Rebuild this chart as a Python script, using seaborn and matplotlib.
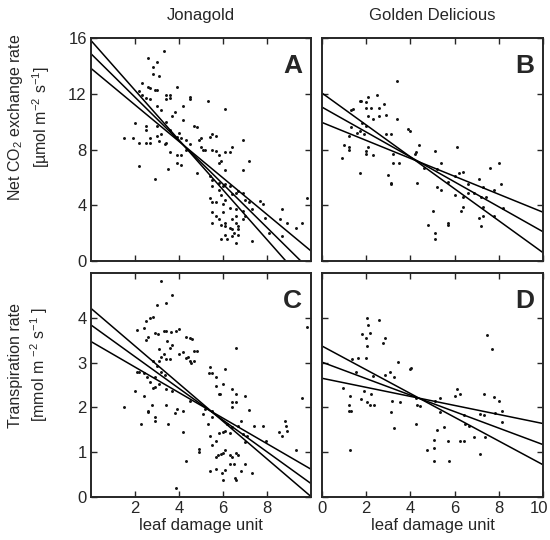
import numpy as np
import pandas as pd
import matplotlib
matplotlib.use('Agg')
import matplotlib.pyplot as plt
import matplotlib.transforms as mtransforms
import seaborn as sns

# --- data ---
# A: Jonagold, net CO2 exchange rate
a_x = [3.3, 2.6, 3.0, 2.8, 2.8, 3.1, 2.3, 2.6, 2.9, 3.0, 2.7, 3.9, 2.2, 2.3, 2.5, 2.7, 3.4, 3.6, 3.6, 3.4,
       4.5, 4.5, 5.3, 6.1, 3.0, 3.2, 3.7, 4.2, 3.8, 2.0, 2.5, 2.5, 3.0, 3.4, 4.2, 4.7, 4.8,
       1.5, 1.9, 2.2, 2.5, 2.7, 3.0, 3.2, 3.6, 3.9, 4.0, 4.1, 4.3, 4.5, 4.9, 5.0, 2.7, 3.1, 3.4, 3.35,
       2.2, 2.9, 3.5, 3.9, 4.1, 3.6, 3.9, 4.1, 4.3, 4.8, 5.0, 5.1, 5.2, 5.5, 5.7, 5.8, 6.1, 6.3, 5.8, 5.9,
       5.5, 5.7, 5.4, 6.4, 6.9, 7.2, 6.9, 6.1,
       5.4, 5.5, 5.8, 5.5, 5.8, 6.0, 6.1, 6.3, 5.9, 6.1, 6.4, 6.6, 6.7, 6.9, 7.0, 5.7, 6.0, 6.3, 6.6, 5.4,
       5.5, 5.5, 5.8, 5.9, 6.1, 6.1, 6.3, 6.4, 6.5, 6.6, 6.7, 6.1, 5.9, 6.2, 6.4, 6.6, 6.7, 6.7, 6.9, 7.0,
       7.2, 7.3, 5.5, 5.7, 6.6, 6.4, 7.3, 7.7, 7.8, 8.6, 8.7, 8.9, 9.3, 9.6, 9.8, 8.7, 8.1, 7.9, 6.9, 6.0]
a_y = [15.1, 14.6, 14.3, 13.9, 13.4, 13.3, 12.8, 12.5, 12.3, 12.3, 12.4, 12.5, 12.2, 11.9, 11.7, 11.6, 11.9, 11.9, 11.7, 11.6,
       11.8, 11.6, 11.5, 10.9, 11.1, 10.8, 10.4, 11.1, 10.7, 9.9, 9.7, 9.4, 9.7, 10.0, 10.1, 9.7, 9.6,
       8.8, 8.8, 8.5, 8.5, 8.8, 9.0, 9.1, 9.4, 8.9, 9.2, 8.8, 8.7, 8.4, 8.7, 8.8, 8.5, 8.6, 8.5, 8.4,
       6.8, 5.9, 6.6, 7.0, 6.9, 7.8, 7.6, 7.6, 8.0, 6.3, 8.2, 8.0, 8.0, 8.0, 7.9, 7.6, 7.8, 7.8, 7.0, 7.2,
       9.1, 9.0, 8.9, 8.2, 8.7, 7.2, 6.5, 6.5,
       6.1, 5.8, 5.6, 5.4, 5.1, 5.4, 5.5, 5.4, 4.7, 4.4, 4.8, 4.9, 5.0, 4.9, 4.4, 4.2, 4.1, 3.8, 3.7, 4.5,
       4.2, 2.7, 3.0, 2.6, 2.7, 2.5, 2.4, 2.3, 2.0, 2.7, 2.5, 1.9, 1.6, 1.6, 1.8, 1.3, 1.9, 2.3, 3.0, 3.2,
       4.2, 3.7, 3.5, 3.2, 3.2, 3.0, 1.4, 4.3, 4.1, 3.0, 3.7, 2.7, 2.4, 2.7, 4.5, 1.8, 2.0, 3.1, 3.6, 3.5]

# B: Golden Delicious, net CO2 exchange rate
b_x = [3.4, 2.5, 2.1, 1.7, 1.75, 2.0, 2.8, 2.6, 2.0, 2.2, 1.3, 1.4, 2.6, 2.3, 2.1, 2.9, 3.4, 2.0, 1.3, 1.8,
       3.9, 4.0, 2.9, 3.1, 1.2, 1.6, 1.7, 1.9, 1.0, 1.2, 1.2, 0.9, 2.1, 2.3, 2.0, 2.0, 3.2, 3.2, 3.5, 4.4,
       4.2, 4.25, 5.1, 6.1, 4.6, 5.4, 5.2, 1.7, 3.0, 3.1, 3.1, 4.3, 5.2, 5.4, 6.0, 6.2, 6.4, 5.7, 6.6, 7.1,
       7.6, 8.0, 8.1, 7.3, 7.8, 6.0, 6.4, 6.6, 6.9, 7.2, 7.4, 6.4, 6.3, 7.3, 8.2, 7.1, 7.3, 7.8, 7.2, 5.0,
       4.8, 5.7, 5.7, 5.1, 5.1]
b_y = [12.9, 11.9, 11.8, 11.5, 11.5, 11.4, 11.3, 11.0, 11.0, 11.0, 10.8, 10.9, 10.4, 10.2, 10.4, 10.5, 10.2, 9.7, 9.6, 9.9,
       9.5, 9.3, 9.1, 9.1, 9.0, 9.2, 9.3, 9.1, 8.3, 8.2, 8.0, 7.4, 8.2, 7.6, 7.7, 7.9, 7.7, 7.0, 7.0, 8.3,
       7.7, 7.8, 7.9, 8.2, 6.7, 7.0, 6.6, 6.3, 6.2, 5.6, 5.5, 5.6, 5.3, 5.1, 6.1, 6.3, 6.4, 5.7, 5.5, 5.9,
       6.7, 7.0, 5.5, 5.3, 5.1, 4.7, 4.6, 4.9, 4.9, 4.6, 4.6, 3.9, 3.6, 3.9, 3.8, 3.1, 3.2, 3.2, 2.5, 3.6,
       2.6, 2.7, 2.6, 2.0, 1.6]

# C: Jonagold, transpiration rate
c_x = [3.2, 3.7, 3.4, 3.0, 2.5, 2.7, 2.8, 2.1, 2.4, 2.6, 2.5, 2.9, 3.05, 3.3, 3.4, 3.65, 3.85, 4.0, 4.3, 4.5,
       4.6, 4.7, 4.8, 4.3, 4.4, 4.5, 4.55, 4.7, 4.2, 4.0, 3.7, 3.6, 3.45, 3.1, 3.2, 3.4, 3.6, 3.3, 3.1, 2.8,
       3.0, 3.2, 3.35, 2.9, 2.7, 2.55, 2.4, 2.2, 2.1, 2.0, 2.8, 2.9, 3.1, 3.4, 3.7, 2.4, 2.6, 2.75, 2.6, 2.25,
       2.9, 2.9, 1.5, 3.4, 3.9, 3.8, 4.2, 4.5, 4.2, 4.9, 4.9, 4.3, 3.85, 3.5,
       5.4, 5.35, 5.5, 5.7, 5.7, 5.8, 5.85, 6.0, 6.1, 6.4, 6.4, 6.6, 6.6, 6.6, 7.0, 7.2, 6.4, 5.5, 5.5, 5.2,
       5.1, 5.3, 5.4, 5.5, 5.7, 5.8, 6.0, 6.1, 6.2, 6.3, 6.4, 6.7, 6.8, 6.9, 7.0, 7.1, 5.7, 5.75, 5.9, 6.0,
       6.1, 6.3, 6.4, 6.6, 6.7, 6.5, 6.3, 6.1, 5.95, 6.0, 5.7, 5.4, 6.55, 6.6, 7.0, 6.8, 7.3, 7.4, 7.8, 7.95,
       8.55, 8.7, 8.8, 8.9, 8.85, 9.3, 9.6, 9.8]
c_y = [4.83, 4.5, 4.32, 4.28, 3.93, 4.0, 4.02, 3.73, 3.78, 3.57, 3.5, 3.67, 3.64, 3.7, 3.7, 3.69, 3.7, 3.74, 3.57, 3.54,
       3.52, 3.27, 3.27, 3.1, 3.13, 3.04, 2.99, 3.04, 3.24, 3.19, 3.39, 3.32, 3.48, 3.3, 3.13, 3.07, 3.07, 3.19, 3.04, 3.04,
       2.93, 2.78, 2.73, 2.68, 2.56, 2.67, 2.76, 2.78, 2.78, 2.37, 2.44, 2.46, 2.52, 2.41, 2.37, 2.26, 1.93, 2.06, 1.9, 1.64,
       1.78, 1.69, 2.02, 2.06, 1.96, 1.87, 1.91, 2.15, 1.44, 1.07, 1.0, 0.8, 0.21, 1.63,
       2.9, 2.76, 2.76, 2.67, 2.48, 2.31, 2.31, 2.52, 2.85, 2.41, 2.13, 2.13, 2.3, 3.32, 2.26, 1.94, 2.0, 1.93, 1.78, 1.96,
       1.85, 1.63, 1.37, 1.16, 1.26, 1.42, 1.46, 1.48, 1.63, 1.42, 1.57, 1.59, 1.7, 1.41, 1.22, 1.37, 0.89, 0.93, 0.95, 0.98,
       1.04, 0.93, 0.9, 0.98, 0.93, 0.74, 0.74, 0.61, 0.53, 0.37, 0.63, 0.59, 0.43, 0.37, 0.74, 0.59, 0.53, 1.59, 1.59, 1.26,
       1.44, 1.37, 1.7, 1.48, 1.59, 1.04, 2.2, 3.8]

# D: Golden Delicious, transpiration rate
d_x = [2.03, 2.56, 2.1, 2.18, 1.8, 2.0, 2.86, 2.75, 2.03, 2.0, 1.65, 1.54, 1.35, 3.46, 3.99, 4.02, 3.06, 2.86, 3.24, 2.33,
       0.97, 1.27, 1.88, 2.21, 1.24, 1.2, 1.3, 1.75, 2.03, 2.18, 2.36, 3.16, 3.54, 3.12, 3.24, 4.27, 4.3, 4.45, 5.36, 5.13,
       5.36, 4.27, 5.2, 5.51, 1.27, 5.05, 4.75, 5.08, 5.05, 5.73, 5.7, 6.26, 6.44, 6.11, 6.04, 6.26, 6.41, 6.49, 6.64, 6.87,
       7.14, 7.32, 7.37, 7.17, 7.35, 7.78, 8.0, 7.82, 8.15, 8.15, 7.67, 7.47]
d_y = [4.0, 3.96, 3.84, 3.67, 3.63, 3.54, 3.54, 3.44, 3.37, 3.11, 3.1, 2.78, 3.07, 3.02, 2.85, 2.89, 2.78, 2.73, 2.68, 2.7,
       2.44, 2.26, 2.37, 2.3, 2.06, 1.93, 1.91, 2.19, 2.13, 2.06, 2.06, 2.15, 2.11, 1.89, 1.54, 2.22, 2.06, 2.04, 2.22, 2.15,
       1.89, 1.64, 1.5, 1.57, 1.04, 1.27, 1.05, 1.1, 0.8, 0.8, 1.24, 1.24, 1.26, 2.41, 2.26, 2.31, 1.84, 1.63, 1.59, 1.33,
       1.85, 1.84, 1.33, 0.96, 2.31, 2.24, 2.15, 1.87, 1.93, 1.67, 3.31, 3.61]

# regression line and its two confidence lines (intercept at x=0, slope)
a_lines = [(15.82, -1.786), (14.87, -1.559), (13.82, -1.31)]
b_lines = [(12.05, -1.145), (11.04, -0.894), (9.94, -0.644)]
c_lines = [(4.21, -0.42), (3.84, -0.354), (3.47, -0.285)]
d_lines = [(3.37, -0.265), (3.01, -0.184), (2.65, -0.101)]

cultivars = ['Jonagold', 'Golden Delicious']
letters = ['A', 'B', 'C', 'D']

sns.set_style('ticks')
plt.rcParams['font.family'] = ['Liberation Sans', 'DejaVu Sans']
plt.rcParams['mathtext.fontset'] = 'custom'
plt.rcParams['mathtext.rm'] = 'Liberation Sans'
plt.rcParams['mathtext.it'] = 'Liberation Sans'

fig = plt.figure(figsize=(5.5, 5.4), dpi=100)
W, H = 550, 540
lefts = [91, 322]
rights = [311, 543]
tops = [38, 273]
bottoms = [261, 497]

panels = [(a_x, a_y, a_lines), (b_x, b_y, b_lines), (c_x, c_y, c_lines), (d_x, d_y, d_lines)]
ylims = [(0, 16), (0, 5)]
yticks = [[0, 4, 8, 12, 16], [0, 1, 2, 3, 4]]

for i, (xs, ys, lines) in enumerate(panels):
    row, col = divmod(i, 2)
    ax = fig.add_axes([lefts[col] / W, 1 - bottoms[row] / H,
                       (rights[col] - lefts[col]) / W, (bottoms[row] - tops[row]) / H])
    df = pd.DataFrame({'x': xs, 'y': ys})
    sns.scatterplot(data=df, x='x', y='y', ax=ax, color='#111111', s=4.5, linewidth=0, marker='o')
    for b, m in lines:
        ax.axline((0, b), slope=m, color='black', lw=1.1)
    ax.set_xlim(0, 10)
    ax.set_ylim(*ylims[row])
    ax.set_yticks(yticks[row])
    if col == 0:
        ax.set_xticks([2, 4, 6, 8])
    else:
        ax.set_xticks([0, 2, 4, 6, 8, 10])
    ax.tick_params(direction='in', top=True, right=True, length=4, width=1,
                   labelsize=12, pad=3)
    if row == 0:
        ax.tick_params(labelbottom=False)
        ax.set_title(cultivars[col], fontsize=12, pad=13)
        ax.set_xlabel('')
    else:
        ax.set_xlabel('leaf damage unit', fontsize=12, labelpad=1.5)
    if col == 1:
        ax.tick_params(labelleft=False)
        if row == 1:
            lab = ax.get_xticklabels()[-1]
            lab.set_transform(lab.get_transform() +
                              mtransforms.ScaledTranslation(-3 / 72, 0, fig.dpi_scale_trans))
    ax.set_ylabel('')
    for s in ax.spines.values():
        s.set_linewidth(1.4)
    ax.text(0.96, 0.93, letters[i], transform=ax.transAxes, ha='right', va='top',
            fontsize=19, fontweight='bold')

fig.text(29 / W, 1 - 117 / H, 'Net CO$_2$ exchange rate\n[µmol m$^{-2}$ s$^{-1}$]',
         rotation=90, ha='center', va='center', fontsize=11.5, linespacing=1.3)
fig.text(29 / W, 1 - 365 / H, 'Transpiration rate\n[mmol m $^{-2}$ s$^{-1}$ ]',
         rotation=90, ha='center', va='center', fontsize=11.5, linespacing=1.3)

fig.savefig('out.png', dpi=100)
